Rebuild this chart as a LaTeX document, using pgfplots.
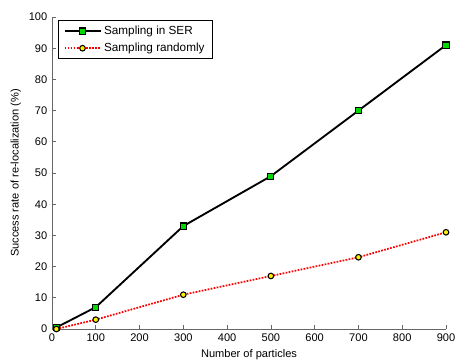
\documentclass[border=0pt]{standalone}
\usepackage{fontspec}
\setmainfont{Liberation Sans}
\usepackage{pgfplots}
\pgfplotsset{compat=1.18}
\begin{document}
\begin{tikzpicture}
\begin{axis}[
  scale only axis,
  width=295.5pt, height=234pt,
  xmin=0, xmax=900, ymin=0, ymax=100,
  xtick={0,100,...,900}, ytick={0,10,...,100},
  axis lines*=left,
  axis line style={black!60, line width=0.6pt},
  tick align=inside,
  major tick length=3pt,
  tick style={black!60, line width=0.5pt},
  /pgf/number format/assume math mode=true,
  ticklabel style={font=\fontsize{8.3}{10}\selectfont},
  label style={font=\fontsize{8.3}{10}\selectfont},
  xlabel={Number of particles},
  ylabel={Success rate of re-localization (\%)},
  xlabel style={yshift=1pt},
  ylabel style={yshift=-1pt},
  legend style={at={(0.015,0.99)}, anchor=north west, draw=black, line width=0.5pt,
    font=\fontsize{8.8}{10.5}\selectfont, inner xsep=4pt, inner ysep=2pt, row sep=1pt,
    cells={anchor=west}},
  legend cell align=left,
  legend image code/.code={\draw[mark repeat=2,mark phase=2,#1] plot coordinates {(0pt,0pt) (13.5pt,0pt) (27pt,0pt)};},
  clip=false,
]
\addplot[black, line width=1.4pt, mark=square*, mark size=2.3pt,
  mark options={fill=green!85!black, draw=black, line width=0.8pt, solid}]
  coordinates {(10,0.5) (100,7) (300,33) (500,49) (700,70) (900,91)};
\addlegendentry{Sampling in SER}
\addplot[red, line width=1.3pt, densely dotted, mark=*, mark size=2.1pt,
  mark options={fill=yellow, draw=black, line width=0.8pt, solid}]
  coordinates {(10,0) (100,3) (300,11) (500,17) (700,23) (900,31)};
\addlegendentry{Sampling randomly}
\end{axis}
\pgfresetboundingbox
\useasboundingbox ([xshift=-39pt, yshift=-24.75pt]current axis.south west) rectangle ([xshift=8.25pt, yshift=12.75pt]current axis.north east);
\end{tikzpicture}
\end{document}
